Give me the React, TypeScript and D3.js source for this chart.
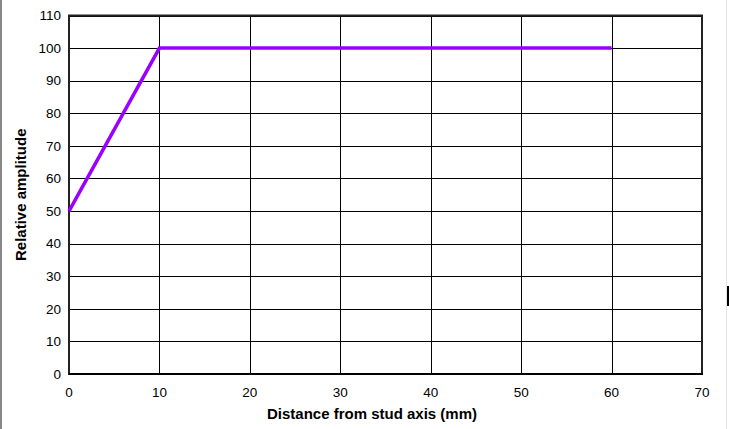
import React from "react";
import * as d3 from "d3";

const xTicks = [0, 10, 20, 30, 40, 50, 60, 70];
const yTicks = [0, 10, 20, 30, 40, 50, 60, 70, 80, 90, 100, 110];
const seriesX = [0, 10, 60];
const seriesY = [50, 100, 100];
const xTitle = "Distance from stud axis (mm)";
const yTitle = "Relative amplitude";

const W = 729;
const H = 429;
const L = 69, R = 702, T = 15.5, B = 374;

export default function App() {
  const x = d3.scaleLinear().domain([0, 70]).range([L, R]);
  const y = d3.scaleLinear().domain([0, 110]).range([B, T]);
  const pts = seriesX.map((v, i) => [v, seriesY[i]] as [number, number]);
  const line = d3.line<[number, number]>().x(d => x(d[0])).y(d => y(d[1]));
  const font = "Arial, 'Liberation Sans', sans-serif";
  return (
    <svg width={W} height={H} style={{ position: "fixed", left: 0, top: 0, background: "#fff" }}>
      <rect x={0} y={0} width={W} height={H} fill="#fff" />
      <line x1={1} x2={1} y1={0} y2={H} stroke="#888" strokeWidth={2} />
      <line x1={726.5} x2={726.5} y1={0} y2={H} stroke="#e4e4e4" strokeWidth={1} />
      <rect x={727} y={286} width={2} height={20} fill="#000" />
      {yTicks.map(t => (
        <line key={"gy" + t} x1={L} x2={R} y1={Math.round(y(t)) + 0.5} y2={Math.round(y(t)) + 0.5} stroke="#000" strokeWidth={1} />
      ))}
      {xTicks.map(t => (
        <line key={"gx" + t} x1={Math.round(x(t)) + 0.5} x2={Math.round(x(t)) + 0.5} y1={T} y2={B} stroke="#000" strokeWidth={1} />
      ))}
      <rect x={L} y={T} width={R - L} height={B - T} fill="none" stroke="#222" strokeWidth={2} />
      <line x1={L} x2={R + 1} y1={B} y2={B} stroke="#000" strokeWidth={2} />
      <path d={line(pts) || ""} fill="none" stroke="#9900ff" strokeWidth={3.5} strokeLinejoin="miter" />
      {yTicks.map(t => (
        <text key={"ty" + t} x={61} y={y(t)} dy="0.35em" textAnchor="end" fontFamily={font} fontSize={13.5} fill="#000">{t}</text>
      ))}
      {xTicks.map(t => (
        <text key={"tx" + t} x={x(t)} y={392} dy="0.35em" textAnchor="middle" fontFamily={font} fontSize={13.5} fill="#000">{t}</text>
      ))}
      <text x={372} y={414} dy="0.35em" textAnchor="middle" fontFamily={font} fontSize={15} fontWeight="bold" fill="#000">{xTitle}</text>
      <text transform={`translate(20.5, ${(T + B) / 2}) rotate(-90)`} textAnchor="middle" dy="0.35em" fontFamily={font} fontSize={15} fontWeight="bold" fill="#000">{yTitle}</text>
    </svg>
  );
}
